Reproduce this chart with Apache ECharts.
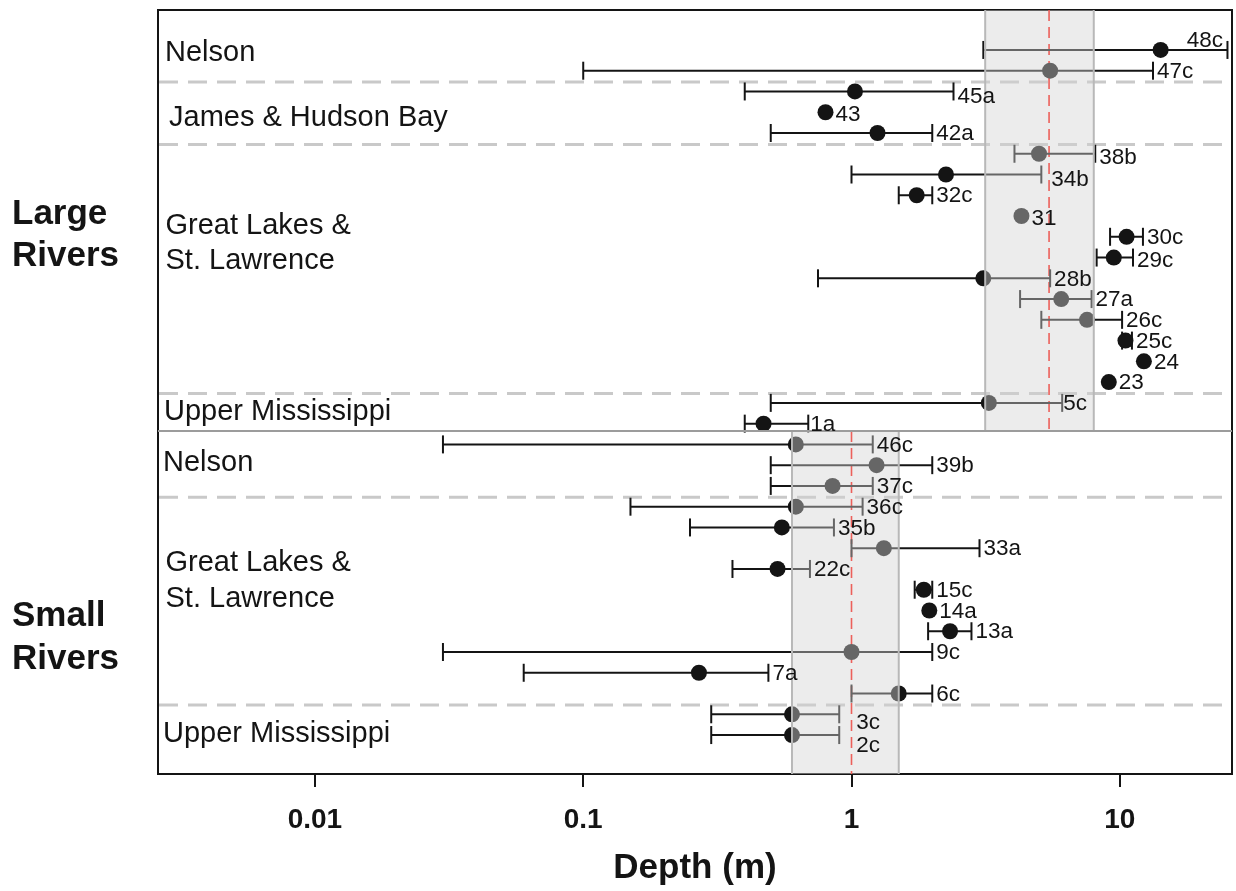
<!DOCTYPE html>
<html>
<head>
<meta charset="utf-8">
<script src="https://cdn.jsdelivr.net/npm/echarts@6/dist/echarts.min.js"></script>
<style>
html,body{margin:0;padding:0;background:#ffffff;}
#c{width:1236px;height:891px;}
</style>
</head>
<body>
<div id="c"></div>
<script>
// ---------------- data ----------------
const sites = ['48c','47c','45a','43','42a','38b','34b','32c','31','30c','29c','28b','27a','26c','25c','24','23','5c','1a',
               '46c','39b','37c','36c','35b','33a','22c','15c','14a','13a','9c','7a','6c','3c','2c'];
const depthLow  = [3.1, 0.1, 0.4, null, 0.5, 4.05, 1.0, 1.5, null, 9.2, 8.2, 0.75, 4.25, 5.1, 10.2, null, null, 0.5, 0.4,
                   0.03, 0.5, 0.5, 0.15, 0.25, 1.0, 0.36, 1.72, null, 1.93, 0.03, 0.06, 1.0, 0.3, 0.3];
const depthMean = [14.2, 5.5, 1.03, 0.8, 1.25, 5.0, 2.25, 1.75, 4.3, 10.6, 9.5, 3.1, 6.05, 7.55, 10.5, 12.3, 9.1, 3.25, 0.47,
                   0.62, 1.24, 0.85, 0.62, 0.55, 1.32, 0.53, 1.86, 1.95, 2.33, 1.0, 0.27, 1.5, 0.6, 0.6];
const depthHigh = [25.2, 13.3, 2.4, null, 2.0, 8.1, 5.1, 2.0, null, 12.2, 11.2, 5.5, 7.85, 10.2, 11.1, null, null, 6.1, 0.69,
                   1.2, 2.0, 1.2, 1.1, 0.86, 3.0, 0.7, 2.0, null, 2.8, 2.0, 0.49, 2.0, 0.9, 0.9];

const riverSizes = ['Large\nRivers', 'Small\nRivers'];
const sizeStartRow = [0, 19];
const regionNames = ['Nelson', 'James & Hudson Bay', 'Great Lakes &\nSt. Lawrence', 'Upper Mississippi',
                     'Nelson', 'Great Lakes &\nSt. Lawrence', 'Upper Mississippi'];
const regionStartRow = [0, 2, 5, 17, 19, 22, 32];

const bandLow = [3.15, 0.6];
const bandHigh = [8.0, 1.5];
const medianDepth = [5.45, 1.0];

const tickValues = [0.01, 0.1, 1, 10];
const tickLabels = ['0.01', '0.1', '1', '10'];

// ---------------- layout / style ----------------
const FONT = '"Liberation Sans", Arial, Helvetica, sans-serif';
const ROW_MIN = -1.924, ROW_MAX = 34.876;
const DIVIDER = 18.36;
const INK = '#141414';

const labelNudge = {
  '48c': {at: 'mean', dx: 16, dy: -10},
  '34b': {dx: 6, dy: 4},
  '45a': {dy: 4},
  '38b': {dy: 3},
  '43': {dy: 2},
  '31': {dy: 2},
  '29c': {dy: 2},
  '5c': {dx: -3},
  '1a': {dx: -2},
  '3c': {dx: 13, dy: 8},
  '2c': {dx: 13, dy: 10}
};

const rowData = sites.map((s, i) => [i,
  depthLow[i] == null ? '-' : depthLow[i],
  depthMean[i],
  depthHigh[i] == null ? '-' : depthHigh[i]]);

const sepRows = regionStartRow.filter(r => sizeStartRow.indexOf(r) < 0).map(r => r - 0.45);

function panelSpan(k, cs, api) {
  const yDiv = api.coord([1, DIVIDER])[1];
  return k === 0 ? [cs.y, yDiv] : [yDiv, cs.y + cs.height];
}

const option = {
  animation: false,
  backgroundColor: '#ffffff',
  grid: {left: 158, right: 4, top: 10, bottom: 116, show: true, borderColor: INK, borderWidth: 2, backgroundColor: 'rgba(0,0,0,0)'},
  xAxis: {
    type: 'log', logBase: 10, min: 0.0026, max: 26.2, position: 'bottom',
    axisLine: {show: true, onZero: false, lineStyle: {color: INK, width: 2}},
    axisTick: {show: true, inside: false, length: 13, customValues: tickValues, lineStyle: {color: INK, width: 2}},
    minorTick: {show: false},
    splitLine: {show: false},
    axisLabel: {
      customValues: tickValues, margin: 32,
      fontSize: 28, fontWeight: 'bold', fontFamily: FONT, color: INK,
      formatter: v => { const k = tickValues.findIndex(t => Math.abs(t - v) / t < 1e-6); return k >= 0 ? tickLabels[k] : ''; }
    },
    name: 'Depth (m)', nameLocation: 'middle', nameGap: 77,
    nameTextStyle: {fontSize: 35, fontWeight: 'bold', fontFamily: FONT, color: INK}
  },
  yAxis: {type: 'value', inverse: true, min: ROW_MIN, max: ROW_MAX, show: false, splitLine: {show: false}},
  series: [
    // region separators (dashed)
    {
      type: 'custom', z: 1, silent: true, clip: true,
      data: sepRows.map(r => [1, r]), encode: {x: 0, y: 1},
      renderItem(params, api) {
        const cs = params.coordSys;
        const y = api.coord([1, api.value(1)])[1];
        return {type: 'line', shape: {x1: cs.x + 1, y1: y, x2: cs.x + cs.width - 4, y2: y},
                style: {stroke: '#c9c9c9', lineWidth: 3, lineDash: [19, 10]}};
      }
    },
    // median depth lines (red dashed)
    {
      type: 'custom', z: 1, silent: true, clip: true,
      data: medianDepth.map((v, k) => [v, k]), encode: {x: 0, y: 1},
      renderItem(params, api) {
        const cs = params.coordSys;
        const k = api.value(1);
        const x = api.coord([api.value(0), 0])[0];
        const sp = panelSpan(k, cs, api);
        return {type: 'line', shape: {x1: x, y1: sp[0], x2: x, y2: sp[1]},
                style: {stroke: '#ff0a00', lineWidth: 1.6, lineDash: [11, 6]}};
      }
    },
    // error bars and points
    {
      type: 'custom', z: 2, silent: true, clip: true,
      data: rowData, encode: {x: 2, y: 0},
      renderItem(params, api) {
        const r = api.value(0), lo = api.value(1), m = api.value(2), hi = api.value(3);
        const ch = [];
        const st = {stroke: INK, lineWidth: 2};
        if (isFinite(lo) && isFinite(hi)) {
          const a = api.coord([lo, r]), b = api.coord([hi, r]);
          ch.push({type: 'line', shape: {x1: a[0], y1: a[1], x2: b[0], y2: b[1]}, style: st});
          ch.push({type: 'line', shape: {x1: a[0], y1: a[1] - 9, x2: a[0], y2: a[1] + 9}, style: st});
          ch.push({type: 'line', shape: {x1: b[0], y1: b[1] - 9, x2: b[0], y2: b[1] + 9}, style: st});
        }
        const c = api.coord([m, r]);
        ch.push({type: 'circle', shape: {cx: c[0], cy: c[1], r: 8}, style: {fill: INK}});
        return {type: 'group', children: ch};
      }
    },
    // interquartile band overlay
    {
      type: 'custom', z: 3, silent: true, clip: true,
      data: bandLow.map((v, k) => [v, bandHigh[k], k]), encode: {x: [0, 1], y: 2},
      renderItem(params, api) {
        const cs = params.coordSys;
        const k = api.value(2);
        const xL = api.coord([api.value(0), 0])[0], xR = api.coord([api.value(1), 0])[0];
        const sp = panelSpan(k, cs, api);
        const edge = {stroke: '#b8b8b8', lineWidth: 2};
        return {type: 'group', children: [
          {type: 'rect', shape: {x: xL, y: sp[0], width: xR - xL, height: sp[1] - sp[0]}, style: {fill: 'rgba(211,211,211,0.43)'}},
          {type: 'line', shape: {x1: xL, y1: sp[0], x2: xL, y2: sp[1]}, style: edge},
          {type: 'line', shape: {x1: xR, y1: sp[0], x2: xR, y2: sp[1]}, style: edge}
        ]};
      }
    },
    // divider between large and small rivers
    {
      type: 'custom', z: 4, silent: true, clip: true,
      data: [[1, DIVIDER]], encode: {x: 0, y: 1},
      renderItem(params, api) {
        const cs = params.coordSys;
        const y = api.coord([1, api.value(1)])[1];
        return {type: 'line', shape: {x1: cs.x, y1: y, x2: cs.x + cs.width, y2: y},
                style: {stroke: '#9c9c9c', lineWidth: 2}};
      }
    },
    // site labels
    {
      type: 'custom', z: 5, silent: true, clip: false,
      data: rowData, encode: {x: 2, y: 0},
      renderItem(params, api) {
        const r = api.value(0);
        const name = sites[r];
        const nd = labelNudge[name] || {};
        const hasBar = isFinite(api.value(3));
        const useMean = !hasBar || nd.at === 'mean';
        const ref = useMean ? api.value(2) : api.value(3);
        const p = api.coord([ref, r]);
        const x = p[0] + (useMean ? 10 : 4) + (nd.dx || 0);
        const y = p[1] + 1 + (nd.dy || 0);
        return {type: 'text', x: x, y: y,
                style: {text: name, font: '22.5px ' + FONT, fill: INK, align: 'left', verticalAlign: 'middle'}};
      }
    }
  ],
  graphic: [
    {type: 'text', x: 12, y: 235, style: {text: riverSizes[0], font: 'bold 35px ' + FONT, fill: INK, lineHeight: 42, align: 'left', verticalAlign: 'middle'}},
    {type: 'text', x: 12, y: 638, style: {text: riverSizes[1], font: 'bold 35px ' + FONT, fill: INK, lineHeight: 43, align: 'left', verticalAlign: 'middle'}},
    {type: 'text', x: 165, y: 53, style: {text: regionNames[0], font: '29px ' + FONT, fill: INK, align: 'left', verticalAlign: 'middle'}},
    {type: 'text', x: 169, y: 118, style: {text: regionNames[1], font: '29px ' + FONT, fill: INK, align: 'left', verticalAlign: 'middle'}},
    {type: 'text', x: 165.5, y: 243.5, style: {text: regionNames[2], font: '29px ' + FONT, fill: INK, lineHeight: 35, align: 'left', verticalAlign: 'middle'}},
    {type: 'text', x: 164, y: 412, style: {text: regionNames[3], font: '29px ' + FONT, fill: INK, align: 'left', verticalAlign: 'middle'}},
    {type: 'text', x: 163, y: 463, style: {text: regionNames[4], font: '29px ' + FONT, fill: INK, align: 'left', verticalAlign: 'middle'}},
    {type: 'text', x: 165.5, y: 581, style: {text: regionNames[5], font: '29px ' + FONT, fill: INK, lineHeight: 36, align: 'left', verticalAlign: 'middle'}},
    {type: 'text', x: 163, y: 734, style: {text: regionNames[6], font: '29px ' + FONT, fill: INK, align: 'left', verticalAlign: 'middle'}}
  ]
};

const chart = echarts.init(document.getElementById('c'), null, {renderer: 'canvas', width: 1236, height: 891});
chart.setOption(option);
</script>
</body>
</html>
